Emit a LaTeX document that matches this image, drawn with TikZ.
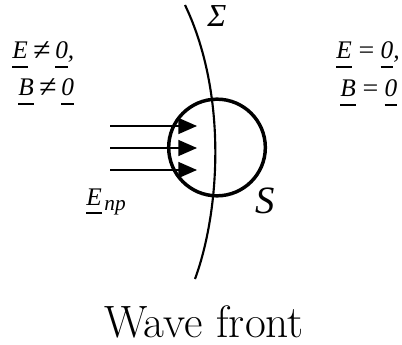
\documentclass[tikz,border=0pt]{standalone}
\usepackage{fontspec}
\newfontfamily\tnr{Liberation Serif}
\usetikzlibrary{arrows.meta}
\newsavebox\ulbox
\newcommand\ulx[1]{\sbox\ulbox{#1}\rlap{\rule[-6.5pt]{\wd\ulbox}{1.4pt}}\usebox\ulbox}
\newcommand\neqsign{\hspace{0.2em}\raisebox{-0.07em}{\scalebox{1.25}{≠}}\hspace{0.2em}}
\newcommand\eqsign{\hspace{0.2em}\scalebox{1.1}[1]{=}\hspace{0.2em}}
\tikzset{
  lab/.style={inner sep=0pt, anchor=base west, font=\tnr\itshape\fontsize{19}{21}\selectfont},
  ray/.style={line width=1.1pt, -{Triangle[length=14pt,width=12pt]}},
  front/.style={line width=1.6pt},
  surf/.style={draw, circle, line width=2.6pt, minimum size=72.5pt, inner sep=0pt}
}
\begin{document}
\begin{tikzpicture}[x=0.75pt,y=-0.75pt]
\useasboundingbox (0,0) rectangle (402,345);
% labels
\node[lab] (e1) at (12,59) {\ulx{E}\neqsign\ulx{0},};
\node[lab] (b1) at (18,96) {\ulx{B}\neqsign\ulx{0}};
\node[lab] (e2) at (336,59) {\ulx{E}\eqsign\ulx{0},};
\node[lab] (b2) at (340,97) {\ulx{B}\eqsign\ulx{0}};
% wave front curve
\coordinate (ctop) at (185,5);
\coordinate (cbot) at (195,279);
\draw[front] (ctop) .. controls (227.3,93.3) and (220.2,210.2) .. (cbot);
\node[lab, font=\tnr\itshape\fontsize{24}{26}\selectfont] (sigma) at (207,27) {Σ};
% surface
\node[surf] (S) at (217,147.5) {};
\node[lab, font=\tnr\itshape\fontsize{29}{32}\selectfont] (slab) at (255,213) {S};
% rays
\coordinate (a1s) at (110,126); \coordinate (a1e) at (197,126);
\coordinate (a2s) at (110,148); \coordinate (a2e) at (197,148);
\coordinate (a3s) at (110,170); \coordinate (a3e) at (197,170);
\draw[ray] (a1s) -- (a1e);
\draw[ray] (a2s) -- (a2e);
\draw[ray] (a3s) -- (a3e);
\node[lab] (epr) at (86,205) {\ulx{E}\hspace{2pt}\raisebox{-4pt}{\fontsize{16}{17}\selectfont пр}};
% caption
\node[inner sep=0pt, anchor=base, font=\fontsize{34}{37}\selectfont] (cap) at (204,337) {Wave front};
\end{tikzpicture}
\end{document}
